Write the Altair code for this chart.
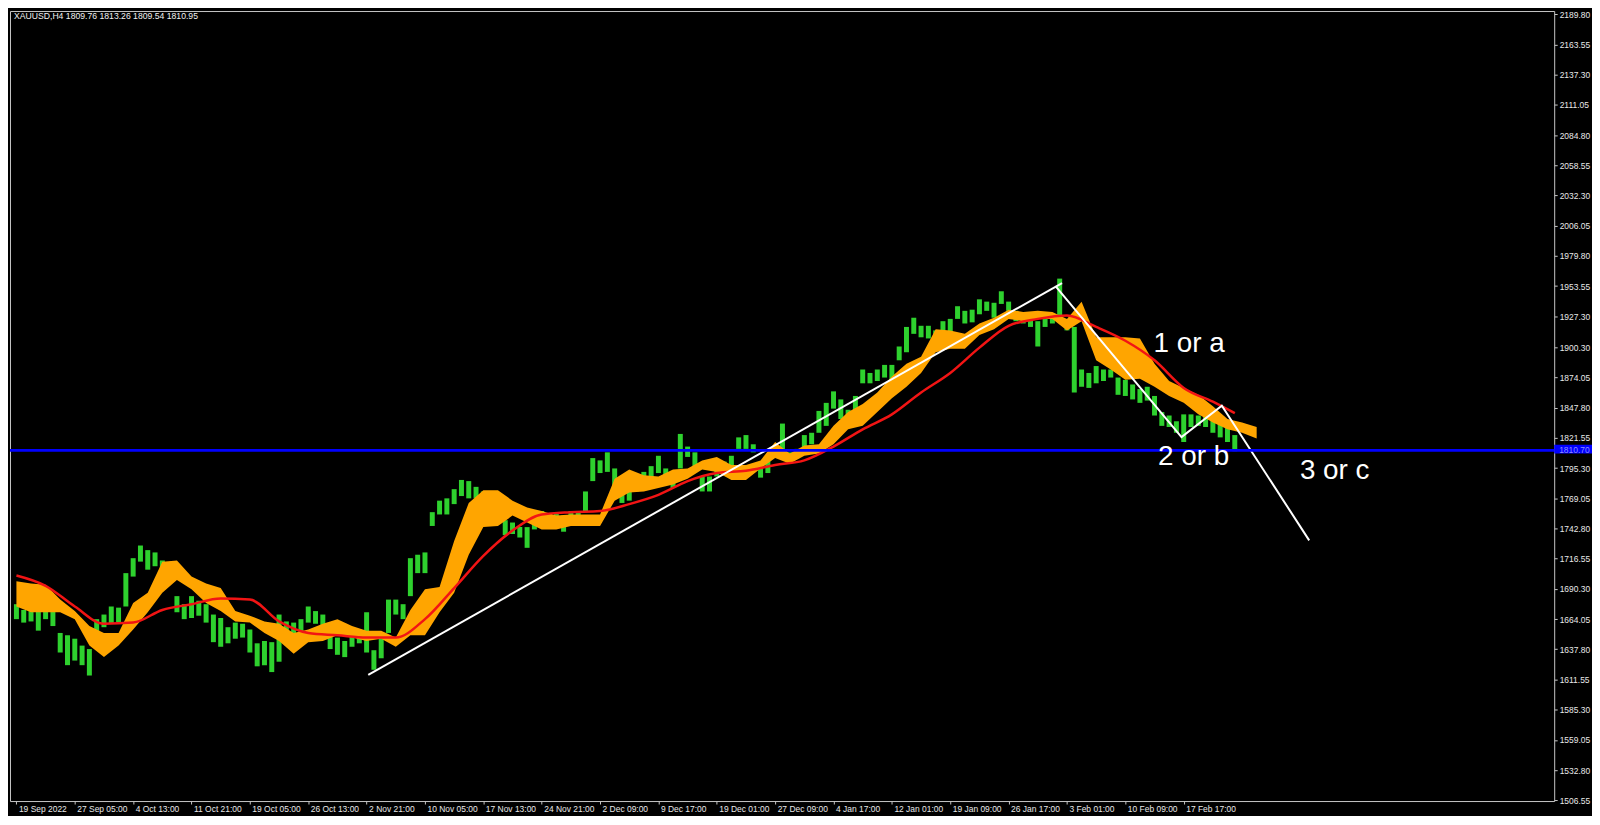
import altair as alt
import pandas as pd

# ---------------- data (XAUUSD H4) ----------------
title_text = "XAUUSD,H4  1809.76 1813.26 1809.54 1810.95"
bid_price = 1810.70

bar_step = 4  # one sample every 4 H4 bars
bar_highs = [
    1677, 1672, 1671, 1674, 1671, 1674, 1652, 1650, 1647, 1641,
    1638, 1664, 1668, 1675, 1674, 1704, 1717, 1728, 1724, 1722,
    1715, 1712, 1684, 1677, 1684, 1680, 1677, 1668, 1665, 1657,
    1661, 1660, 1655, 1643, 1645, 1644, 1668, 1662, 1661, 1664,
    1675, 1671, 1668, 1652, 1648, 1645, 1655, 1652, 1670, 1637,
    1650, 1681, 1681, 1677, 1717, 1720, 1722, 1757, 1767, 1769,
    1777, 1785, 1784, 1779, 1775, 1772, 1767, 1750, 1748, 1744,
    1744, 1754, 1758, 1755, 1757, 1754, 1758, 1758, 1775, 1804,
    1802, 1809, 1795, 1772, 1775, 1789, 1792, 1797, 1806, 1795,
    1789, 1825, 1814, 1809, 1788, 1788, 1799, 1801, 1806, 1822,
    1824, 1816, 1799, 1802, 1815, 1834, 1809, 1812, 1824, 1826,
    1845, 1852, 1862, 1855, 1846, 1858, 1881, 1878, 1881, 1885,
    1885, 1901, 1918, 1926, 1919, 1919, 1915, 1923, 1925, 1936,
    1932, 1933, 1942, 1940, 1939, 1949, 1940, 1932, 1929, 1928,
    1923, 1926, 1929, 1960, 1923, 1918, 1881, 1878, 1884, 1881,
    1881, 1874, 1872, 1868, 1864, 1866, 1858, 1844, 1841, 1836,
    1842, 1842, 1841, 1841, 1838, 1834, 1832, 1824,
]
bar_lows = [
    1664, 1661, 1662, 1654, 1664, 1658, 1635, 1624, 1628, 1624,
    1615, 1650, 1657, 1660, 1661, 1675, 1701, 1714, 1707, 1710,
    1705, 1698, 1670, 1664, 1665, 1667, 1661, 1644, 1640, 1643,
    1647, 1648, 1635, 1623, 1624, 1618, 1627, 1650, 1644, 1650,
    1661, 1660, 1652, 1638, 1633, 1631, 1640, 1643, 1635, 1620,
    1630, 1652, 1668, 1664, 1684, 1704, 1704, 1745, 1755, 1755,
    1764, 1771, 1769, 1769, 1764, 1758, 1750, 1737, 1738, 1735,
    1726, 1742, 1747, 1744, 1745, 1740, 1750, 1749, 1757, 1784,
    1791, 1792, 1772, 1765, 1767, 1775, 1782, 1785, 1791, 1784,
    1778, 1795, 1805, 1795, 1775, 1775, 1788, 1791, 1791, 1812,
    1812, 1809, 1787, 1791, 1805, 1804, 1801, 1804, 1812, 1816,
    1826, 1832, 1847, 1838, 1834, 1839, 1869, 1869, 1871, 1874,
    1869, 1889, 1896, 1912, 1909, 1908, 1902, 1913, 1913, 1925,
    1921, 1922, 1929, 1932, 1926, 1938, 1932, 1923, 1921, 1918,
    1901, 1918, 1921, 1922, 1915, 1861, 1866, 1865, 1869, 1871,
    1874, 1859, 1858, 1855, 1852, 1854, 1841, 1832, 1831, 1826,
    1818, 1831, 1832, 1831, 1826, 1822, 1818, 1810,
]

cloud_step = 8
cloud_upper = [
    1697, 1695, 1694, 1681, 1671, 1658, 1652, 1652, 1678, 1687,
    1714, 1715, 1701, 1695, 1691, 1671, 1667, 1662, 1660, 1652,
    1655, 1660, 1664, 1658, 1654, 1654, 1648, 1672, 1690, 1692,
    1732, 1765, 1776, 1776, 1767, 1761, 1758, 1754, 1755, 1755,
    1755, 1786, 1794, 1789, 1788, 1794, 1795, 1802, 1805, 1798,
    1798, 1802, 1818, 1808, 1815, 1816, 1832, 1844, 1851, 1861,
    1875, 1886, 1892, 1916, 1915, 1912, 1921, 1926, 1933, 1931,
    1932, 1931, 1925, 1940, 1909, 1909, 1909, 1908, 1886, 1871,
    1865, 1859, 1849, 1838, 1835, 1831,
]
cloud_lower = [
    1675, 1670, 1670, 1670, 1664, 1641, 1631, 1641, 1655, 1670,
    1687, 1698, 1690, 1678, 1671, 1662, 1661, 1652, 1645, 1634,
    1644, 1645, 1650, 1648, 1645, 1647, 1640, 1650, 1650, 1670,
    1687, 1720, 1744, 1745, 1754, 1748, 1742, 1742, 1745, 1745,
    1745, 1767, 1774, 1775, 1778, 1781, 1786, 1794, 1792, 1785,
    1785, 1795, 1804, 1799, 1806, 1808, 1816, 1829, 1832, 1844,
    1856, 1866, 1878, 1896, 1899, 1899, 1911, 1916, 1925, 1923,
    1925, 1925, 1915, 1923, 1889, 1881, 1872, 1873, 1866, 1858,
    1852, 1842, 1835, 1829, 1826, 1821,
]

ma_step = 16
ma_values = [
    1702, 1693, 1675, 1660, 1661, 1672, 1677, 1682, 1681, 1662,
    1652, 1650, 1648, 1648, 1664, 1691, 1719, 1741, 1755, 1757,
    1758, 1764, 1772, 1784, 1791, 1793, 1798, 1802, 1814, 1829,
    1842, 1861, 1878, 1900, 1919, 1925, 1928, 1918, 1906, 1889,
    1865, 1853,
]
ma_last_bar = 668
ma_last_value = 1843

trend_bars = [192.9, 573.3]
trend_prices = [1615.6, 1956.1]
wave_bars = [569.7, 638.8, 660.9, 708.8]
wave_prices = [1953.5, 1822.2, 1849.6, 1732.5]

wave_labels = ["1 or a", "2 or b", "3 or c"]
wave_label_bars = [623.5, 625.9, 703.7]
wave_label_prices = [1903, 1805, 1793]

x_tick_bars = [32 * i for i in range(21)]
x_tick_labels = [
    "19 Sep 2022", "27 Sep 05:00", "4 Oct 13:00", "11 Oct 21:00", "19 Oct 05:00",
    "26 Oct 13:00", "2 Nov 21:00", "10 Nov 05:00", "17 Nov 13:00", "24 Nov 21:00",
    "2 Dec 09:00", "9 Dec 17:00", "19 Dec 01:00", "27 Dec 09:00", "4 Jan 17:00",
    "12 Jan 01:00", "19 Jan 09:00", "26 Jan 17:00", "3 Feb 01:00", "10 Feb 09:00",
    "17 Feb 17:00",
]
y_ticks = [
    2189.80, 2163.55, 2137.30, 2111.05, 2084.80, 2058.55, 2032.30, 2006.05,
    1979.80, 1953.55, 1927.30, 1900.30, 1874.05, 1847.80, 1821.55, 1795.30,
    1769.05, 1742.80, 1716.55, 1690.30, 1664.05, 1637.80, 1611.55, 1585.30,
    1559.05, 1532.80, 1506.55,
]

# ---------------- tables ----------------
bars_df = pd.DataFrame({
    "bar": [i * bar_step for i in range(len(bar_highs))],
    "high": bar_highs, "low": bar_lows,
})
cloud_df = pd.DataFrame({
    "bar": [i * cloud_step for i in range(len(cloud_upper))],
    "upper": cloud_upper, "lower": cloud_lower,
})
ma_df = pd.DataFrame({
    "bar": [i * ma_step for i in range(len(ma_values))] + [ma_last_bar],
    "ma": ma_values + [ma_last_value],
})
lines_df = pd.DataFrame({
    "bar": trend_bars + wave_bars,
    "price": trend_prices + wave_prices,
    "seg": ["trend"] * len(trend_bars) + ["wave"] * len(wave_bars),
    "order": list(range(len(trend_bars))) + list(range(len(wave_bars))),
})
labels_df = pd.DataFrame({
    "bar": wave_label_bars, "price": wave_label_prices, "text": wave_labels,
})
bid_df = pd.DataFrame({"price": [bid_price], "lo": [bid_price - 2.8], "hi": [bid_price + 4.9],
                       "text": [f"{bid_price:.2f}"]})
title_df = pd.DataFrame({"text": [title_text]})

# ---------------- chart ----------------
W, H = 1552, 794
xscale = alt.Scale(domain=[-0.8, 840.4], nice=False, zero=False)
yscale = alt.Scale(domain=[1505.9, 2192.6], nice=False, zero=False)

label_expr = "[" + ",".join(f"'{t}'" for t in x_tick_labels) + "][round(datum.value/32)]"
x_axis = alt.Axis(values=x_tick_bars, tickCount=40, labelExpr=label_expr, labelAlign="left",
                  labelFont="Liberation Sans", labelFontSize=8.5, labelColor="#E8E8E8",
                  labelPadding=1, labelOffset=2, labelFlush=False, labelOverlap=False,
                  tickColor="#C8C8C8", tickSize=3, domain=False, grid=False, title=None)
y_axis = alt.Axis(orient="right", values=y_ticks, tickCount=40, format=".2f",
                  labelFont="Liberation Sans", labelFontSize=8.5, labelColor="#E8E8E8",
                  labelPadding=2, labelFlush=False, labelOverlap=False,
                  tickColor="#C8C8C8", tickSize=3, domain=False, grid=False, title=None)


def xq(field="bar"):
    return alt.X(f"{field}:Q", scale=xscale, axis=x_axis)


def yq(field):
    return alt.Y(f"{field}:Q", scale=yscale, axis=y_axis)


green = alt.Chart(bars_df).mark_bar(color="#2ED12E", size=5).encode(
    x=xq(), y=yq("high"), y2="low:Q")

cloud = alt.Chart(cloud_df).mark_area(color="#FFA500", opacity=1).encode(
    x=xq(), y=yq("upper"), y2="lower:Q")

ma = alt.Chart(ma_df).mark_line(color="#F21414", strokeWidth=2.5, interpolate="monotone").encode(
    x=xq(), y=yq("ma"))

waves = alt.Chart(lines_df).mark_line(color="#FFFFFF", strokeWidth=2).encode(
    x=xq(), y=yq("price"), detail="seg:N", order="order:Q")

bid_line = alt.Chart(bid_df).mark_rule(color="#0000FF", strokeWidth=3).encode(
    y=yq("price"))

bid_box = alt.Chart(bid_df).mark_rect(color="#0000FF").encode(
    x=alt.value(W), x2=alt.value(W + 38),
    y=yq("hi"), y2="lo:Q")

bid_text = alt.Chart(bid_df).mark_text(align="left", baseline="middle", font="Liberation Sans",
                                       fontSize=8.5, color="#8C8CFF").encode(
    x=alt.value(W + 5), y=yq("price"), text="text:N")

wave_text = alt.Chart(labels_df).mark_text(align="left", baseline="middle", font="Liberation Sans",
                                           fontSize=28, color="#FFFFFF").encode(
    x=xq(), y=yq("price"), text="text:N")

title = alt.Chart(title_df).mark_text(align="left", baseline="middle", font="Liberation Sans",
                                      fontSize=8.7, color="#F0F0F0").encode(
    x=alt.value(4), y=alt.value(5), text="text:N")

chart = alt.layer(green, cloud, ma, waves, bid_line, bid_box, bid_text, wave_text, title).properties(
    width=W, height=H, padding=0, background="#000000"
).configure_view(stroke="#C8C8C8", strokeWidth=1
).configure_axisY(labelOverlap=False, labelFlush=False)

chart.save("out.html", embed_options={"renderer": "svg", "actions": False})
